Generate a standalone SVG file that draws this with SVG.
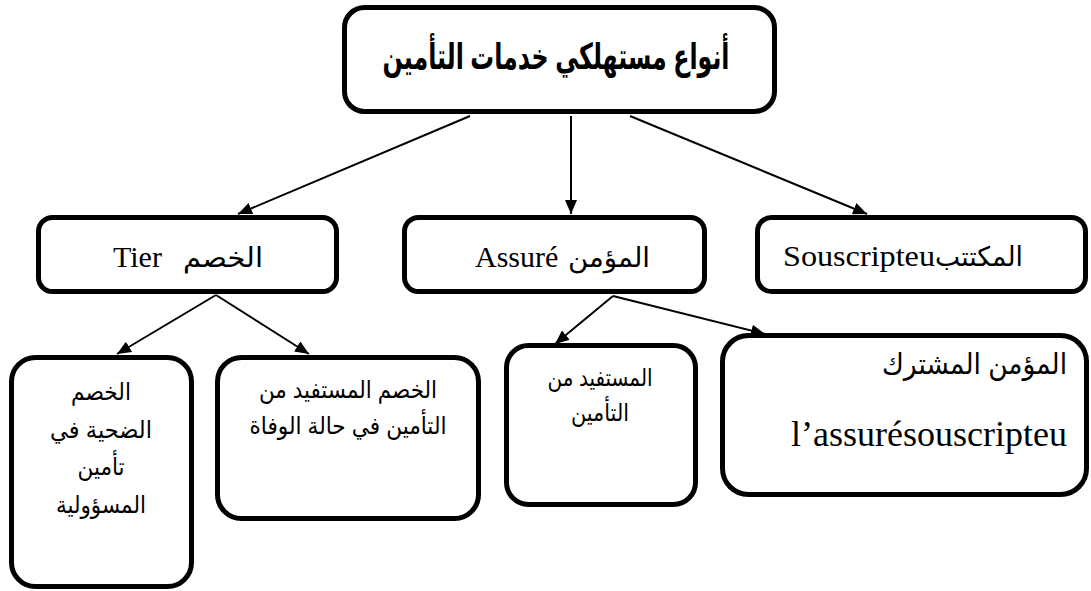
<svg xmlns="http://www.w3.org/2000/svg" width="1091" height="591" viewBox="0 0 1091 591">
  <defs>
    <marker id="arrow" viewBox="0 0 14 12" refX="14" refY="6" markerWidth="14" markerHeight="12" markerUnits="userSpaceOnUse" orient="auto">
      <path d="M0,0 L14,6 L0,12 z" fill="#000"/>
    </marker>
    <style>
      .box { fill: #fff; stroke: #000; stroke-width: 5; }
      .edge { stroke: #000; stroke-width: 2; fill: none; marker-end: url(#arrow); }
      .title { font-family: "Liberation Sans", "DejaVu Sans", sans-serif; font-weight: bold; font-size: 36px; fill: #000; }
      .lat { font-family: "Liberation Serif", serif; font-size: 30px; fill: #000; }
      .ar { font-family: "Liberation Sans", "DejaVu Sans", sans-serif; font-size: 24px; fill: #000; }
      .arS { font-family: "Liberation Serif", "DejaVu Sans", serif; font-size: 27px; fill: #000; }
    </style>
  </defs>
  <rect width="1091" height="591" fill="#fff"/>

  <!-- arrows between levels -->
  <g id="connectors">
    <line class="edge" x1="470" y1="116" x2="238" y2="214"/>
    <line class="edge" x1="571" y1="116" x2="571" y2="214"/>
    <line class="edge" x1="630" y1="116" x2="867" y2="214"/>
    <line class="edge" x1="216" y1="295" x2="117" y2="354"/>
    <line class="edge" x1="216" y1="295" x2="309" y2="354"/>
    <line class="edge" x1="613" y1="296" x2="555" y2="344"/>
    <line class="edge" x1="613" y1="296" x2="765" y2="334"/>
  </g>

  <g id="root">
    <rect class="box" x="344.5" y="7.5" width="430" height="104" rx="20"/>
    <text class="title" x="556" y="69" text-anchor="middle" direction="rtl" textLength="347" lengthAdjust="spacingAndGlyphs">أنواع مستهلكي خدمات التأمين</text>
  </g>

  <g id="tier">
    <rect class="box" x="38.5" y="217.5" width="298" height="74" rx="14"/>
    <text class="lat" x="113" y="267">Tier</text>
    <text class="arS" x="263" y="267" text-anchor="end" textLength="80" lengthAdjust="spacingAndGlyphs">الخصم</text>
  </g>

  <g id="assure">
    <rect class="box" x="404.5" y="217.5" width="300" height="74" rx="14"/>
    <text class="lat" x="475" y="267">Assuré</text>
    <text class="arS" x="650" y="267" text-anchor="end" textLength="82" lengthAdjust="spacingAndGlyphs">المؤمن</text>
  </g>

  <g id="souscripteur">
    <rect class="box" x="757.5" y="217.5" width="328" height="74" rx="14"/>
    <text class="lat" x="783" y="266" textLength="152" lengthAdjust="spacingAndGlyphs">Souscripteu</text>
    <text class="arS" x="1023" y="266" text-anchor="end" textLength="88" lengthAdjust="spacingAndGlyphs">المكتتب</text>
  </g>

  <g id="victime">
    <rect class="box" x="11.5" y="357.5" width="180" height="229" rx="24"/>
    <text class="ar" x="101" y="400" text-anchor="middle" textLength="60" lengthAdjust="spacingAndGlyphs">الخصم</text>
    <text class="ar" x="101" y="438" text-anchor="middle" textLength="102" lengthAdjust="spacingAndGlyphs">الضحية في</text>
    <text class="ar" x="101" y="475" text-anchor="middle" textLength="47" lengthAdjust="spacingAndGlyphs">تأمين</text>
    <text class="ar" x="101" y="513" text-anchor="middle" textLength="90" lengthAdjust="spacingAndGlyphs">المسؤولية</text>
  </g>

  <g id="beneficiaire-deces">
    <rect class="box" x="217.5" y="357.5" width="261" height="161" rx="24"/>
    <text class="ar" x="348" y="398" text-anchor="middle" textLength="178" lengthAdjust="spacingAndGlyphs">الخصم المستفيد من</text>
    <text class="ar" x="348" y="434" text-anchor="middle" textLength="197" lengthAdjust="spacingAndGlyphs">التأمين في حالة الوفاة</text>
  </g>

  <g id="beneficiaire">
    <rect class="box" x="506.5" y="345.5" width="189" height="159" rx="22"/>
    <text class="ar" x="600" y="386" text-anchor="middle" textLength="105" lengthAdjust="spacingAndGlyphs">المستفيد من</text>
    <text class="ar" x="600" y="421" text-anchor="middle" textLength="58" lengthAdjust="spacingAndGlyphs">التأمين</text>
  </g>

  <g id="assure-souscripteur">
    <rect class="box" x="722.5" y="335.5" width="364" height="159" rx="26"/>
    <text class="ar" style="font-size:29px" x="1067" y="374" text-anchor="end" textLength="185" lengthAdjust="spacingAndGlyphs">المؤمن المشترك</text>
    <text class="lat" style="font-size:36px" x="1067" y="446" text-anchor="end">l’assurésouscripteu</text>
  </g>
</svg>
